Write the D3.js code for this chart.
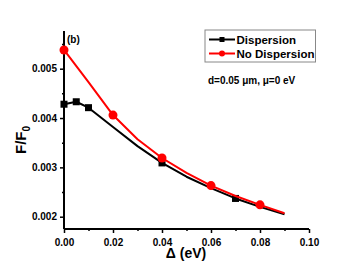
<!DOCTYPE html>
<html>
<head>
<meta charset="utf-8">
<script src="https://cdn.jsdelivr.net/npm/d3@7"></script>
<style>
	body { margin: 0; background: #fff; }
	svg { font-family: Arial, "Liberation Sans", sans-serif; font-weight: bold; }
</style>
</head>
<body>
<div id="chart"></div>
<script>
// data
const dispX = [0, 0.005, 0.01, 0.02, 0.03, 0.04, 0.05, 0.06, 0.07, 0.08, 0.09];
const dispY = [0.00428, 0.00433, 0.00421, 0.00382, 0.00343, 0.00309, 0.00281, 0.00258, 0.00237, 0.0022, 0.00205];
const dispMarked = [0, 0.005, 0.01, 0.04, 0.07];

const noDispX = [0, 0.01, 0.02, 0.03, 0.04, 0.05, 0.06, 0.07, 0.08, 0.09];
const noDispY = [0.00538, 0.00473, 0.00406, 0.00357, 0.00319, 0.00289, 0.00263, 0.00242, 0.00224, 0.00207];
const noDispMarked = [0, 0.02, 0.04, 0.06, 0.08];

const xTicks = [0, 0.02, 0.04, 0.06, 0.08, 0.1];
const xMinor = [0.01, 0.03, 0.05, 0.07, 0.09];
const yTicks = [0.002, 0.003, 0.004, 0.005];
const yMinor = [0.0025, 0.0035, 0.0045, 0.0055];

const width = 359, height = 275;
const svg = d3.select("#chart").append("svg").attr("width", width).attr("height", height);

const x = d3.scaleLinear().domain([0, 0.1]).range([64, 309]);
const y = d3.scaleLinear().domain([0.002, 0.005]).range([216.7, 68.7]);
const yTop = 31, yBottom = 229;

// axes
const xAxis = svg.append("g").attr("transform", `translate(0,${yBottom})`)
	.call(d3.axisBottom(x).tickValues(xTicks).tickFormat(d3.format(".2f")).tickSize(4).tickSizeOuter(0));
svg.append("g").attr("transform", `translate(0,${yBottom})`)
	.call(d3.axisBottom(x).tickValues(xMinor).tickFormat("").tickSize(2).tickSizeOuter(0))
	.select(".domain").remove();
const yAxis = svg.append("g").attr("transform", `translate(${x(0)},0)`)
	.call(d3.axisLeft(y).tickValues(yTicks).tickFormat(d3.format(".3f")).tickSize(4).tickSizeOuter(0));
svg.append("g").attr("transform", `translate(${x(0)},0)`)
	.call(d3.axisLeft(y).tickValues(yMinor).tickFormat("").tickSize(2).tickSizeOuter(0))
	.select(".domain").remove();

xAxis.select(".domain").attr("d", `M${x(0)},0H${x(0.1)}`);
yAxis.select(".domain").attr("d", `M0,${yBottom}V${yTop}`);
svg.selectAll(".domain").attr("stroke", "#000").attr("stroke-width", 2);
svg.selectAll(".tick line").attr("stroke", "#000").attr("stroke-width", 1.5);
svg.selectAll(".tick text").attr("font-family", "Arial, 'Liberation Sans', sans-serif")
	.attr("font-weight", "bold").attr("font-size", 10).attr("fill", "#000");
xAxis.selectAll(".tick text").attr("dy", "0.95em");

// lines
const line = d3.line().x((d) => x(d[0])).y((d) => y(d[1]));

const disp = dispX.map((v, i) => [v, dispY[i]]);
const noDisp = noDispX.map((v, i) => [v, noDispY[i]]);

svg.append("path").datum(disp).attr("d", line)
	.attr("fill", "none").attr("stroke", "#000").attr("stroke-width", 2).attr("stroke-linejoin", "round");
svg.selectAll("rect.disp").data(disp.filter((d) => dispMarked.includes(d[0]))).enter()
	.append("rect").attr("class", "disp")
	.attr("x", (d) => x(d[0]) - 3.5).attr("y", (d) => y(d[1]) - 3.5)
	.attr("width", 7).attr("height", 7).attr("fill", "#000");

svg.append("path").datum(noDisp).attr("d", line)
	.attr("fill", "none").attr("stroke", "#f00").attr("stroke-width", 2).attr("stroke-linejoin", "round");
svg.selectAll("circle.nodisp").data(noDisp.filter((d) => noDispMarked.includes(d[0]))).enter()
	.append("circle").attr("class", "nodisp")
	.attr("cx", (d) => x(d[0])).attr("cy", (d) => y(d[1]))
	.attr("r", 4.5).attr("fill", "#f00");

// labels
svg.append("text").attr("x", 67).attr("y", 43).attr("font-size", 10).text("(b)");

svg.append("text").attr("x", 186).attr("y", 258).attr("text-anchor", "middle").attr("font-size", 14)
	.text("\u0394 (eV)");

const yl = svg.append("text").attr("transform", "translate(26,140) rotate(-90)")
	.attr("text-anchor", "middle").attr("font-size", 15);
yl.append("tspan").text("F/F");
yl.append("tspan").attr("font-size", 10).attr("dy", 4).text("0");

// legend
svg.append("rect").attr("x", 205).attr("y", 30).attr("width", 110.5).attr("height", 32)
	.attr("fill", "#fff").attr("stroke", "#888").attr("stroke-width", 1);
const legend = [
	{ name: "Dispersion", color: "#000", shape: "square" },
	{ name: "No Dispersion", color: "#f00", shape: "circle" },
];
legend.forEach((d, i) => {
	const ly = 39.5 + i * 14;
	svg.append("line").attr("x1", 209).attr("x2", 235).attr("y1", ly).attr("y2", ly)
		.attr("stroke", d.color).attr("stroke-width", 2);
	if (d.shape === "square") {
		svg.append("rect").attr("x", 219.5).attr("y", ly - 2.5).attr("width", 5).attr("height", 5).attr("fill", d.color);
	} else {
		svg.append("circle").attr("cx", 222).attr("cy", ly).attr("r", 3).attr("fill", d.color);
	}
	svg.append("text").attr("x", 236.5).attr("y", ly + 4).attr("font-size", 11.5).text(d.name);
});

svg.append("text").attr("x", 208).attr("y", 84).attr("font-size", 10)
	.text("d=0.05 \u03BCm, \u03BC=0 eV");
</script>
</body>
</html>
